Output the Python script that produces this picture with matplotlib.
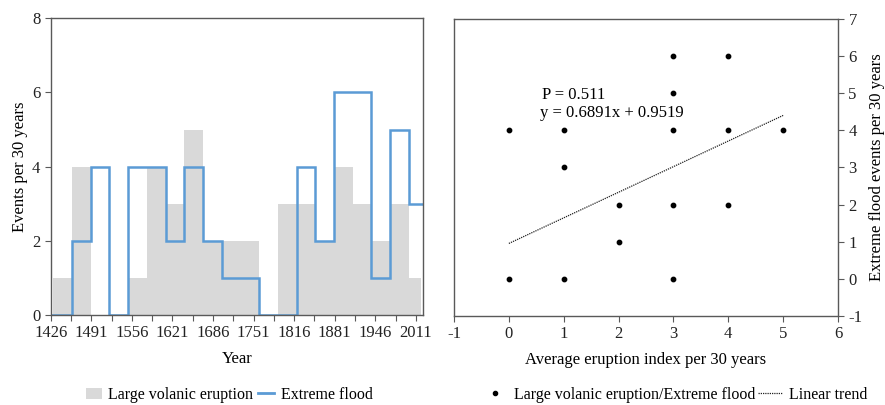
import numpy as np
import matplotlib.pyplot as plt
from matplotlib.patches import Patch
from matplotlib.lines import Line2D

plt.rcParams['font.family'] = ['Liberation Serif', 'DejaVu Serif']
plt.rcParams['font.size'] = 12
plt.rcParams['axes.unicode_minus'] = False

# 30-year bins, 1430-2019
bin_edges = [1430, 1460, 1490, 1520, 1550, 1580, 1610, 1640, 1670, 1700,
             1730, 1760, 1790, 1820, 1850, 1880, 1910, 1940, 1970, 2000, 2019]
eruptions = [1, 4, 0, 0, 1, 4, 3, 5, 2, 2, 2, 0, 3, 3, 2, 4, 3, 2, 3, 1]
floods = [0, 2, 4, 0, 4, 4, 2, 4, 2, 1, 1, 0, 0, 4, 2, 6, 6, 1, 5, 3]
year_ticks = [1426, 1491, 1556, 1621, 1686, 1751, 1816, 1881, 1946, 2011]

# scatter: eruption index vs flood events
sc_x = [0, 1, 3, 4, 3, 3, 4, 5, 1, 2, 3, 4, 2, 0, 1, 3]
sc_y = [4, 4, 6, 6, 5, 4, 4, 4, 3, 2, 2, 2, 1, 0, 0, 0]
slope, intercept, p_value = 0.6891, 0.9519, 0.511

gray = '#d9d9d9'
blue = '#5b9bd5'
spine_c = '#595959'

fig = plt.figure(figsize=(8.85, 4.05), dpi=100)
ax1 = fig.add_axes([0.0573, 0.2222, 0.4203, 0.7326])
ax2 = fig.add_axes([0.513, 0.2198, 0.4339, 0.734])

# left panel
edges = np.array(bin_edges)
ax1.bar(edges[:-1], eruptions, width=np.diff(edges), align='edge',
        color=gray, linewidth=0)
line_edges = edges.astype(float).copy()
line_edges[0] = year_ticks[0]
line_edges[-1] = 2022
ax1.stairs(floods, line_edges, baseline=None, color=blue, linewidth=1.8)
ax1.set_xlim(year_ticks[0], 2022)
ax1.set_ylim(0, 8)
ax1.set_xticks(year_ticks)
ax1.set_xticks(np.arange(year_ticks[0] + 32.5, 2022, 65), minor=True)
ax1.set_yticks([0, 2, 4, 6, 8])
ax1.set_xlabel('Year', labelpad=7)
ax1.set_ylabel('Events per 30 years', labelpad=3)

# right panel
ax2.scatter(sc_x, sc_y, s=10, color='black', zorder=3)
tx = np.array([0, 5])
ax2.plot(tx, slope * tx + intercept, linestyle=(0, (1, 0.8)), color='#222222',
         linewidth=0.9)
ax2.text(0.6, 4.95, f'P = {p_value}', va='center')
ax2.text(0.57, 4.46, f'y = {slope}x + {intercept}', va='center')
ax2.set_xlim(-1, 6)
ax2.set_ylim(-1, 7)
ax2.set_xticks(range(-1, 7))
ax2.set_yticks(range(-1, 8))
ax2.yaxis.tick_right()
ax2.yaxis.set_label_position('right')
ax2.set_xlabel('Average eruption index per 30 years', labelpad=7)
ax2.set_ylabel('Extreme flood events per 30 years', labelpad=5)

for ax in (ax1, ax2):
    for s in ax.spines.values():
        s.set_color(spine_c)
        s.set_linewidth(1.0)
    ax.tick_params(which='both', direction='out', color=spine_c, length=4,
                   width=0.8, labelcolor='#222222')

h1 = [Patch(facecolor=gray, edgecolor='none'),
      Line2D([], [], color=blue, linewidth=2)]
fig.legend(h1, ['Large volanic eruption', 'Extreme flood'], loc='center',
           bbox_to_anchor=(0.259, 0.025), ncol=2, frameon=False, fontsize=11.5,
           handlelength=1.0, handletextpad=0.4, columnspacing=0.3)
h2 = [Line2D([], [], marker='o', color='black', linestyle='none', markersize=3),
      Line2D([], [], color='#222222', linestyle=(0, (1, 0.8)), linewidth=0.9)]
fig.legend(h2, ['Large volanic eruption/Extreme flood', 'Linear trend'],
           loc='center', bbox_to_anchor=(0.763, 0.025), ncol=2, frameon=False,
           fontsize=11.5, handlelength=1.5, handletextpad=0.4, columnspacing=0.2)

fig.savefig('out.png', dpi=100)
